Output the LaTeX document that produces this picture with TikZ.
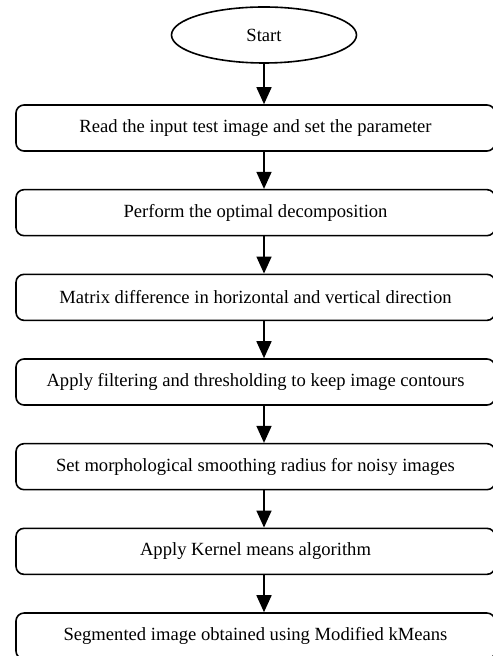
\documentclass[tikz,border=0pt]{standalone}
\usepackage{fontspec}
\setmainfont{Liberation Serif}
\usetikzlibrary{arrows.meta}
\usetikzlibrary{shapes.geometric}
\tikzset{stepbox/.style={draw,line width=.8pt,rounded corners=4pt,minimum width=239.5pt,minimum height=23pt,inner sep=0pt,font=\fontsize{9.3}{11}\selectfont}}
\tikzset{startbox/.style={draw,ellipse,line width=.8pt,minimum width=92.5pt,minimum height=28pt,inner sep=0pt,font=\fontsize{9.3}{11}\selectfont}}
\tikzset{arr/.style={line width=.8pt,-{Triangle[length=8.5pt,width=7.5pt]}}}

\begin{document}
\begin{tikzpicture}[x=.5pt,y=-.5pt,line join=round]
          \useasboundingbox (0,0) rectangle (492,656);
          \node[startbox] (start) at (264,35) {Start};
          \foreach \name/\txt [count=\i] in {read/Read the input test image and set the parameter,
              decomp/Perform the optimal decomposition,
              diff/Matrix difference in horizontal and vertical direction,
              filt/Apply filtering and thresholding to keep image contours,
              morph/Set morphological smoothing radius for noisy images,
              kernel/Apply Kernel means algorithm,
              seg/Segmented image obtained using Modified kMeans}
            \node[stepbox] (\name) at (255.5,{128+84.67*(\i-1)}) {\txt};
          \draw[arr] (start) -- (start |- read.north);
          \foreach \a/\b in {read/decomp,decomp/diff,diff/filt,filt/morph,morph/kernel,kernel/seg}
            \draw[arr] (\a.south -| start) -- (\b.north -| start);
        \end{tikzpicture}
\end{document}
